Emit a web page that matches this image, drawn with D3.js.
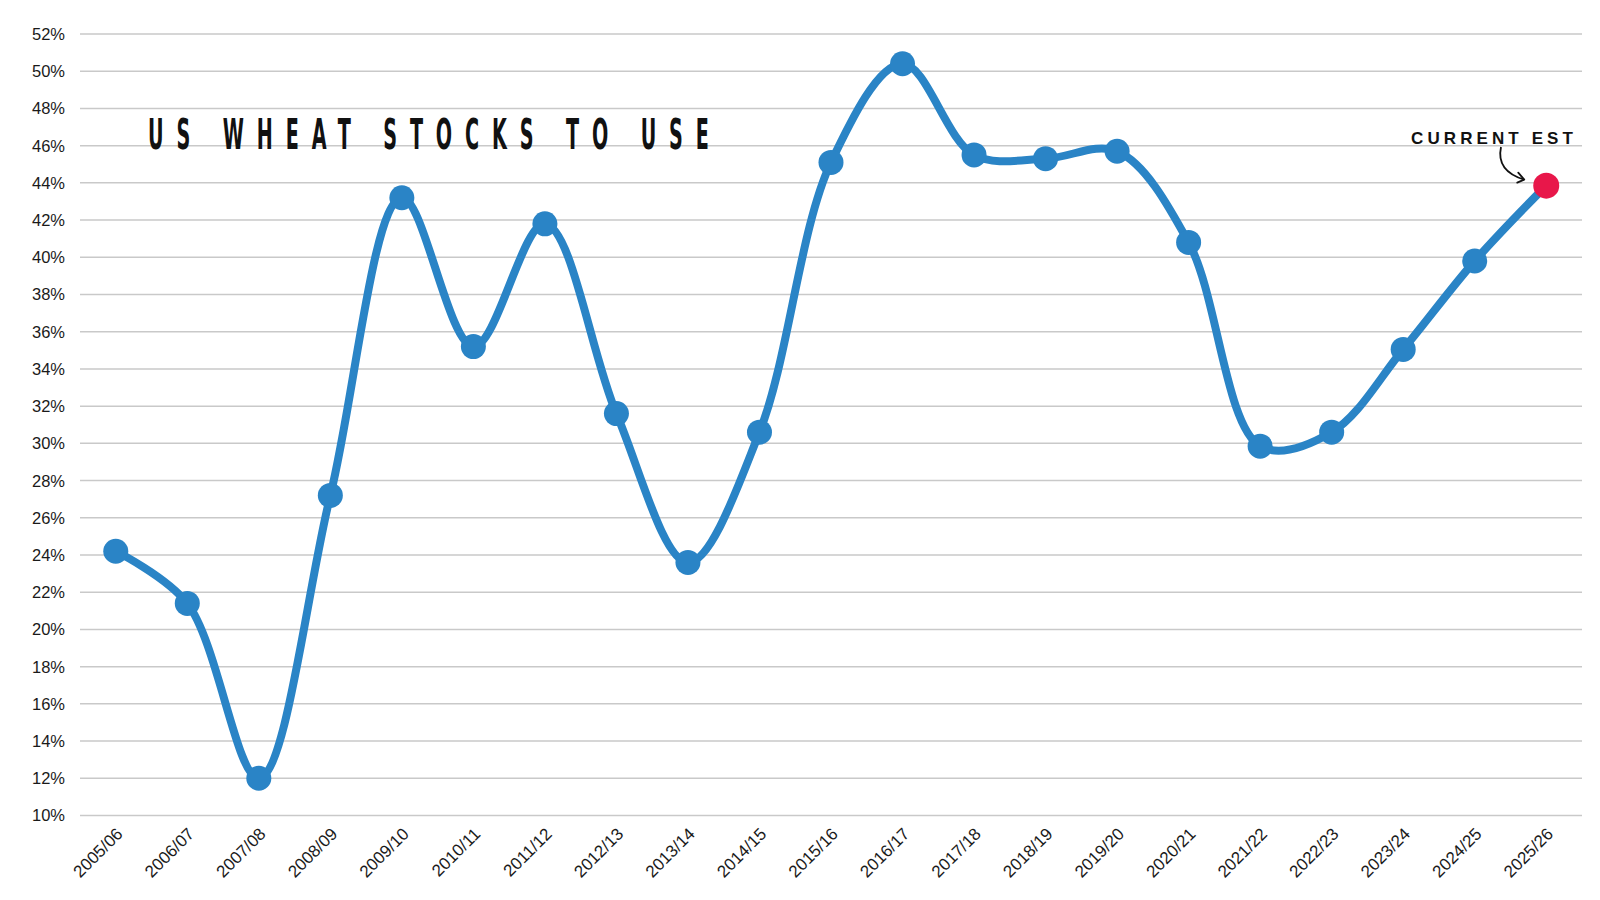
<!DOCTYPE html>
<html>
<head>
<meta charset="utf-8">
<script src="https://cdn.jsdelivr.net/npm/d3@7"></script>
<style>
  html, body { margin: 0; padding: 0; background: #ffffff; }
  svg { display: block; }
</style>
</head>
<body>
<svg id="chart" width="1600" height="900"></svg>
<script>
const seasons = ["2005/06","2006/07","2007/08","2008/09","2009/10","2010/11","2011/12","2012/13","2013/14","2014/15","2015/16","2016/17","2017/18","2018/19","2019/20","2020/21","2021/22","2022/23","2023/24","2024/25","2025/26"];
const stocksToUse = [24.2, 21.4, 12.0, 27.2, 43.2, 35.2, 41.8, 31.6, 23.6, 30.6, 45.1, 50.4, 45.5, 45.3, 45.7, 40.8, 29.85, 30.6, 35.05, 39.8, 43.85];
const yTicks = [10,12,14,16,18,20,22,24,26,28,30,32,34,36,38,40,42,44,46,48,50,52];
const titleText = "US WHEAT STOCKS TO USE";
const noteText = "CURRENT EST";

(function () {
const svg = d3.select("#chart");
const pLeft = 80, pRight = 1582, pTop = 34, pBottom = 815.5;

const x = d3.scaleBand().domain(seasons).range([pLeft, pRight]).padding(0);
const cx = d => x(d) + x.bandwidth() / 2;
const y = d3.scaleLinear().domain([10, 52]).range([pBottom, pTop]);

// gridlines
svg.append("g").selectAll("line").data(yTicks).join("line")
  .attr("x1", pLeft).attr("x2", pRight)
  .attr("y1", d => y(d)).attr("y2", d => y(d))
  .attr("stroke", "#c9c9c9").attr("stroke-width", 1.5);

// y labels
svg.append("g").selectAll("text").data(yTicks).join("text")
  .attr("x", 65).attr("y", d => y(d)).attr("dy", "0.36em")
  .attr("text-anchor", "end")
  .attr("font-family", "'Liberation Sans', Arial, sans-serif")
  .attr("font-size", 16.5).attr("fill", "#1a1a1a")
  .text(d => d + "%");

// x labels
svg.append("g").selectAll("text").data(seasons).join("text")
  .attr("transform", d => `translate(${cx(d) + 8},${835}) rotate(-45)`)
  .attr("text-anchor", "end")
  .attr("font-family", "'Liberation Sans', Arial, sans-serif")
  .attr("font-size", 17).attr("fill", "#1a1a1a")
  .text(d => d);

// line
const pts = seasons.map((s, i) => ({s, v: stocksToUse[i]}));
const line = d3.line().x(d => cx(d.s)).y(d => y(d.v)).curve(d3.curveCatmullRom.alpha(0.5));
svg.append("path").datum(pts)
  .attr("d", line)
  .attr("fill", "none").attr("stroke", "#2a84c6").attr("stroke-width", 8)
  .attr("stroke-linejoin", "round");

// markers
svg.append("g").selectAll("circle").data(pts).join("circle")
  .attr("cx", d => cx(d.s)).attr("cy", d => y(d.v))
  .attr("r", (d, i) => i === pts.length - 1 ? 13 : 12.5)
  .attr("fill", (d, i) => i === pts.length - 1 ? "#e8174a" : "#2a84c6");

// title
const ls = 26;
const title = svg.append("text")
  .attr("font-family", "'Liberation Sans Narrow', 'DejaVu Sans Condensed', 'Liberation Sans', sans-serif")
  .attr("font-weight", "bold")
  .attr("font-size", 43)
  .attr("letter-spacing", ls)
  .attr("fill", "#111")
  .text(titleText);
const tw = title.node().getComputedTextLength() - ls;
const targetW = 709 - 148;
title.attr("transform", `translate(148,148.5) scale(${targetW / tw},1)`);

// annotation
const last = pts[pts.length - 1];
svg.append("text")
  .attr("x", 1411).attr("y", 144)
  .attr("font-family", "'Liberation Sans', Arial, sans-serif")
  .attr("font-weight", "bold").attr("font-size", 17)
  .attr("letter-spacing", 4.1).attr("fill", "#111")
  .text(noteText);

const ex = cx(last.s) - 22, ey = y(last.v) - 6;
svg.append("path")
  .attr("d", `M1501,147 C1497,166 1509,175 ${ex},${ey}`)
  .attr("fill", "none").attr("stroke", "#111").attr("stroke-width", 1.8);
svg.append("path")
  .attr("d", `M${ex - 6},${ey - 7} L${ex},${ey} L${ex - 7},${ey + 3}`)
  .attr("fill", "none").attr("stroke", "#111").attr("stroke-width", 1.8)
  .attr("stroke-linejoin", "round").attr("stroke-linecap", "round");
})();
</script>
</body>
</html>
